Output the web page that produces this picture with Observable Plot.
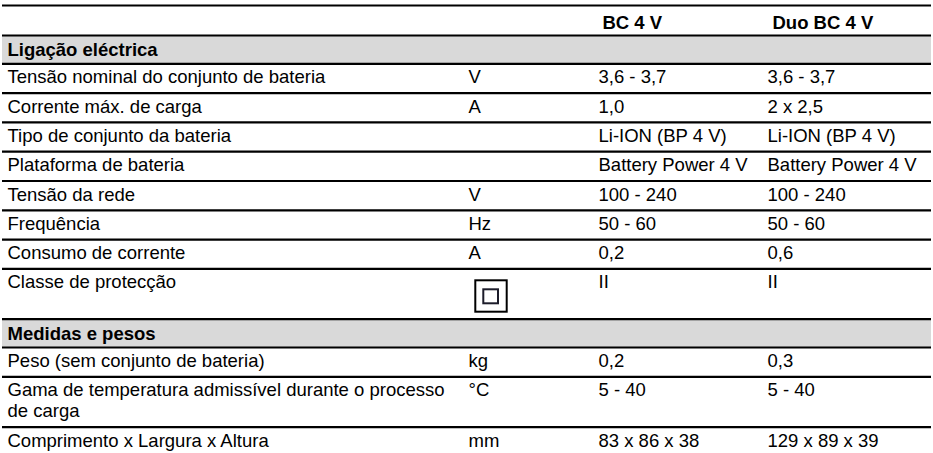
<!DOCTYPE html>
<html>
<head>
<meta charset="utf-8">
<script src="https://cdn.jsdelivr.net/npm/d3@7"></script>
<script src="https://cdn.jsdelivr.net/npm/@observablehq/plot@0.6"></script>
<style>
  html, body { margin: 0; padding: 0; background: #fff; }
  #chart svg { display: block; }
</style>
</head>
<body>
<div id="chart"></div>
<script>
// ---- data ----
const columnHeads = ["BC 4 V", "Duo BC 4 V"];
const sectionTitles = ["Ligação eléctrica", "Medidas e pesos"];
const rowSection = [0, 0, 0, 0, 0, 0, 0, 0, 1, 1, 1];
const rowLabels = [
  "Tensão nominal do conjunto de bateria",
  "Corrente máx. de carga",
  "Tipo de conjunto da bateria",
  "Plataforma de bateria",
  "Tensão da rede",
  "Frequência",
  "Consumo de corrente",
  "Classe de protecção",
  "Peso (sem conjunto de bateria)",
  "Gama de temperatura admissível durante o processo\nde carga",
  "Comprimento x Largura x Altura"
];
const CLASS_II = "⧈"; // protection class II symbol (drawn as double square)
const rowUnits = ["V", "A", "", "", "V", "Hz", "A", CLASS_II, "kg", "°C", "mm"];
const bcValues = ["3,6 - 3,7", "1,0", "Li-ION (BP 4 V)", "Battery Power 4 V", "100 - 240", "50 - 60", "0,2", "II", "0,2", "5 - 40", "83 x 86 x 38"];
const duoValues = ["3,6 - 3,7", "2 x 2,5", "Li-ION (BP 4 V)", "Battery Power 4 V", "100 - 240", "50 - 60", "0,6", "II", "0,3", "5 - 40", "129 x 89 x 39"];

// ---- layout ----
const W = 933, H = 453;
const X = {label: 7, unit: 468, bc: 598, duo: 767, bcHead: 602, duoHead: 772, left: 2, right: 931};
const HEAD_H = 30, SECTION_H = 28.3, ROW_H = 29.3, TALL_H = 50.3;

let cursor = 5;
const headRow = {top: cursor, h: HEAD_H};
cursor += HEAD_H;
const sectionRows = [];
const dataRows = [];
sectionTitles.forEach((title, s) => {
  sectionRows.push({text: title, top: cursor, h: SECTION_H});
  cursor += SECTION_H;
  rowLabels.forEach((label, i) => {
    if (rowSection[i] !== s) return;
    const tall = label.includes("\n") || rowUnits[i] === CLASS_II;
    const h = tall ? TALL_H : ROW_H;
    dataRows.push({label, unit: rowUnits[i], bc: bcValues[i], duo: duoValues[i], top: cursor, h});
    cursor += h;
  });
});
const lineTops = [headRow, ...sectionRows, ...dataRows].map(r => r.top);
const heads = columnHeads.map((t, i) => ({text: t, x: i === 0 ? X.bcHead : X.duoHead, top: headRow.top}));
const symbolRows = dataRows.filter(r => r.unit === CLASS_II);

const font = "'Liberation Sans', Arial, Helvetica, sans-serif";
const FS = 18.5;
const textOpts = {textAnchor: "start", lineAnchor: "top", fontSize: FS, fill: "#000", lineHeight: 1.11};

const chart = Plot.plot({
  width: W,
  height: H,
  margin: 0,
  style: {fontFamily: font, fontSize: FS + "px", background: "#fff", color: "#000", overflow: "visible"},
  x: {domain: [0, W], range: [0, W], axis: null},
  y: {domain: [0, H], range: [0, H], axis: null},
  marks: [
    // grey section bands
    Plot.rect(sectionRows, {x1: () => X.left, x2: () => X.right, y1: d => d.top, y2: d => d.top + d.h, fill: "#d9d9d9"}),
    // horizontal rules
    Plot.ruleY(lineTops, {y: d => d, x1: () => X.left, x2: () => X.right, stroke: "#000", strokeWidth: 2.2}),
    // column heads
    Plot.text(heads, {...textOpts, x: d => d.x, y: d => d.top + 8.5, text: d => d.text, fontWeight: "bold"}),
    // section titles
    Plot.text(sectionRows, {...textOpts, x: () => X.label, y: d => d.top + 6, text: d => d.text, fontWeight: "bold"}),
    // row cells
    Plot.text(dataRows, {...textOpts, x: () => X.label, y: d => d.top + 5, text: d => d.label}),
    Plot.text(dataRows.filter(r => r.unit !== CLASS_II), {...textOpts, x: () => X.unit, y: d => d.top + 5, text: d => d.unit}),
    Plot.text(dataRows, {...textOpts, x: () => X.bc, y: d => d.top + 5, text: d => d.bc}),
    Plot.text(dataRows, {...textOpts, x: () => X.duo, y: d => d.top + 5, text: d => d.duo}),
    // protection class II symbol: square inside a square
    Plot.rect(symbolRows, {x1: () => X.unit + 7.3, x2: () => X.unit + 38.7, y1: d => d.top + 11.9, y2: d => d.top + 43.3, fill: "#fff", stroke: "#000", strokeWidth: 2}),
    Plot.rect(symbolRows, {x1: () => X.unit + 15.3, x2: () => X.unit + 30, y1: d => d.top + 20.9, y2: d => d.top + 34.9, fill: "none", stroke: "#1c1c2a", strokeWidth: 2})
  ]
});
document.getElementById("chart").appendChild(chart);
</script>
</body>
</html>
